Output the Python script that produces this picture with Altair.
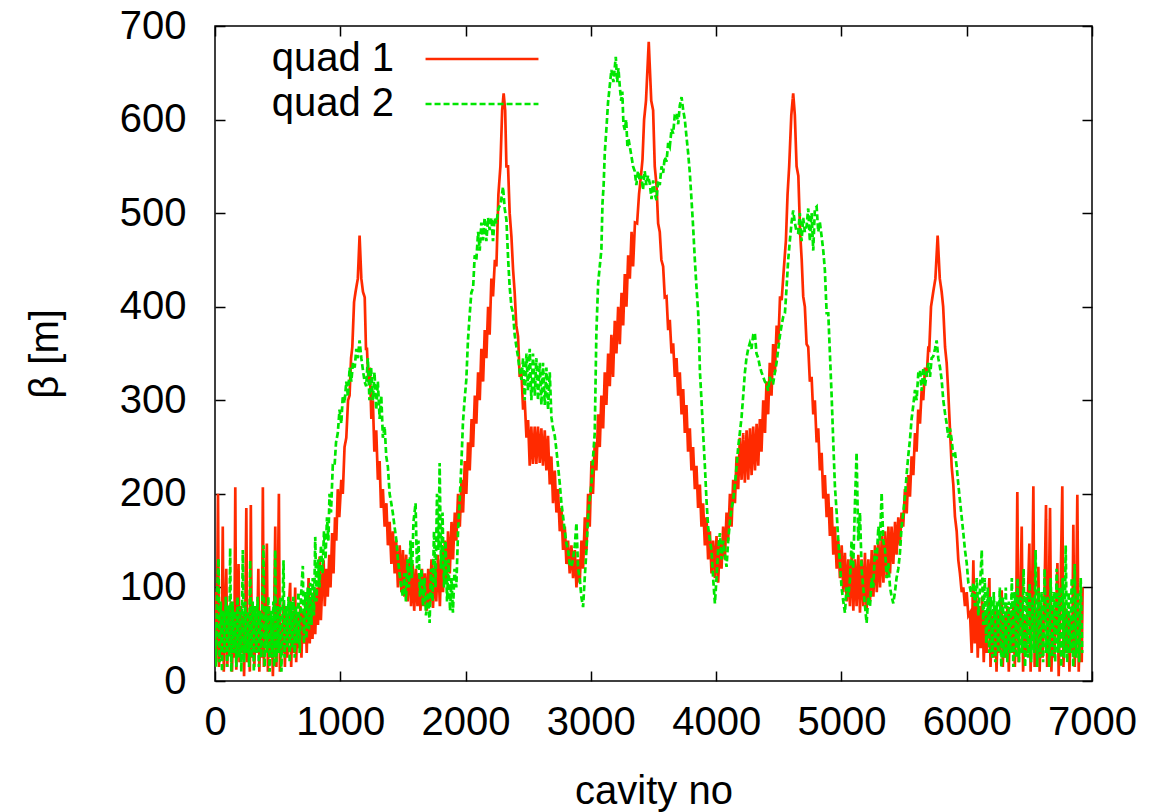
import altair as alt
import pandas as pd

# ---- data (cavity no, beta [m]) ----
quad1_pts = [
    (0,95),(8,20),(16,70),(24,200),(32,15),(44,80),(52,25),(62,165),(70,10),(80,60),(90,120),(98,15),(108,75),(118,30),
    (128,85),(136,10),(146,70),(154,25),(162,207),(170,12),(180,60),(188,125),(196,20),(206,80),(214,30),(224,70),(232,5),
    (242,75),(250,185),(258,20),(268,70),(278,10),(286,188),(294,25),(304,80),(314,15),(324,60),(334,30),(346,120),(354,10),
    (364,75),(374,25),(382,207),(390,15),(400,70),(414,147),(422,10),(432,80),(442,25),(452,65),(462,5),(472,70),(481,165),
    (490,15),(500,80),(510,200),(518,10),(528,60),(538,30),(548,85),(558,15),(568,70),(578,25),(590,80),(600,105),(608,15),
    (618,75),(628,30),(640,100),(648,20),(658,70),(668,35),(680,80),(690,25),(700,75),(712,40),(722,85),(732,30),(747,110),
    (756,40),(768,90),(778,45),(790,95),(800,50),(812,100),(822,60),(835,133),(845,65),(858,110),(867,129),(876,80),(888,120),
    (900,90),(912,135),(922,100),(935,158),(946,115),(958,175),(968,150),(980,205),(992,175),(1008,215),(1020,200),(1034,250),
    (1048,260),(1062,300),(1074,305),(1086,345),(1096,357),(1110,405),(1122,416),(1140,430),(1154,476),(1168,430),(1181,416),
    (1195,410),(1205,355),(1213,355),(1225,320),(1236,335),(1248,280),(1260,300),(1272,245),(1287,268),(1300,215),(1314,235),
    (1325,185),(1340,205),(1354,165),(1368,190),(1380,145),(1394,170),(1408,125),(1420,160),(1434,115),(1446,150),(1460,100),
    (1474,145),(1488,95),(1500,140),(1512,90),(1526,135),(1538,85),(1552,130),(1565,80),(1578,125),(1590,75),(1604,120),
    (1616,80),(1628,115),(1640,75),(1652,120),(1664,80),(1676,115),(1690,75),(1702,120),(1714,80),(1728,130),(1740,78),
    (1754,125),(1766,85),(1780,135),(1795,80),(1808,140),(1820,95),(1834,150),(1848,105),(1860,160),(1874,115),(1888,170),
    (1900,130),(1914,180),(1926,150),(1940,200),(1954,165),(1968,215),(1980,180),(1994,235),(2006,200),(2020,255),(2033,225),
    (2048,280),(2060,250),(2074,305),(2086,275),(2100,330),(2113,300),(2126,355),(2140,320),(2153,375),(2166,345),(2180,400),
    (2192,370),(2206,430),(2219,411),(2234,450),(2246,443),(2262,520),(2278,550),(2292,610),(2304,628),(2316,610),(2326,550),
    (2339,550),(2352,500),(2366,475),(2379,440),(2392,415),(2405,380),(2419,368),(2432,325),(2446,330),(2459,290),(2472,300),
    (2486,260),(2499,279),(2512,230),(2525,272),(2538,232),(2552,272),(2565,232),(2578,272),(2592,233),(2605,270),(2618,230),
    (2632,268),(2645,225),(2658,262),(2672,210),(2685,240),(2698,190),(2712,225),(2725,180),(2738,205),(2752,160),(2765,185),
    (2778,140),(2792,165),(2805,125),(2818,150),(2831,115),(2845,145),(2858,110),(2872,140),(2885,100),(2898,130),(2911,105),
    (2925,150),(2938,120),(2952,175),(2965,140),(2978,200),(2991,165),(3005,235),(3017,200),(3031,255),(3044,225),(3058,285),
    (3071,250),(3084,305),(3098,270),(3111,330),(3124,295),(3138,350),(3151,315),(3164,370),(3177,325),(3191,385),(3204,350),
    (3218,400),(3231,360),(3245,415),(3258,380),(3271,435),(3284,400),(3298,455),(3311,430),(3325,480),(3337,443),(3352,490),
    (3369,489),(3385,521),(3400,540),(3412,557),(3425,600),(3440,620),(3462,683),(3482,620),(3497,610),(3510,550),(3524,530),
    (3537,489),(3550,480),(3563,450),(3577,443),(3590,410),(3604,411),(3617,375),(3630,386),(3644,350),(3657,361),(3670,325),
    (3684,345),(3697,305),(3710,330),(3724,285),(3737,312),(3750,265),(3763,295),(3776,245),(3790,270),(3803,225),(3816,250),
    (3830,205),(3843,230),(3856,185),(3870,210),(3883,165),(3896,190),(3910,145),(3923,175),(3936,130),(3950,160),(3963,115),
    (3976,150),(3990,110),(4003,155),(4016,105),(4030,150),(4043,120),(4056,165),(4070,130),(4083,180),(4096,150),(4110,200),
    (4123,165),(4136,215),(4150,190),(4163,240),(4176,205),(4189,260),(4203,215),(4216,265),(4229,212),(4243,268),(4256,215),
    (4270,270),(4283,220),(4296,272),(4310,225),(4323,275),(4336,230),(4349,280),(4362,245),(4376,300),(4390,265),(4402,320),
    (4415,285),(4428,340),(4442,305),(4455,360),(4469,330),(4483,380),(4496,360),(4510,411),(4523,407),(4540,440),(4557,471),
    (4570,520),(4583,550),(4600,605),(4615,628),(4628,605),(4642,550),(4656,540),(4670,480),(4683,450),(4695,411),(4708,400),
    (4722,360),(4735,357),(4748,320),(4762,325),(4775,285),(4788,300),(4802,255),(4815,270),(4828,225),(4842,244),(4855,195),
    (4868,220),(4882,175),(4895,200),(4908,155),(4922,186),(4935,135),(4948,165),(4962,120),(4975,150),(4988,110),(5002,145),
    (5015,95),(5028,137),(5042,85),(5055,130),(5068,80),(5082,135),(5095,75),(5108,130),(5121,80),(5135,135),(5148,73),
    (5161,130),(5175,80),(5188,137),(5201,75),(5215,130),(5228,85),(5242,140),(5255,90),(5268,145),(5282,95),(5295,150),
    (5308,100),(5322,155),(5335,105),(5348,160),(5362,110),(5375,165),(5388,115),(5400,165),(5414,125),(5428,170),(5440,135),
    (5454,175),(5467,145),(5480,180),(5493,165),(5507,205),(5521,179),(5533,220),(5547,197),(5560,240),(5574,220),(5587,265),
    (5600,245),(5613,290),(5627,275),(5640,310),(5653,300),(5667,335),(5680,325),(5693,355),(5701,354),(5715,400),(5733,416),
    (5750,430),(5768,476),(5785,430),(5800,416),(5812,400),(5827,357),(5840,340),(5853,308),(5866,270),(5880,229),(5893,210),
    (5906,176),(5920,160),(5933,129),(5946,115),(5960,95),(5973,100),(5986,80),(6000,95),(6013,70),(6026,73),(6040,30),
    (6053,129),(6064,40),(6076,95),(6088,25),(6100,80),(6112,35),(6124,90),(6136,20),(6148,75),(6160,30),(6172,85),(6181,110),
    (6190,15),(6202,70),(6214,25),(6226,80),(6238,10),(6250,75),(6262,30),(6279,97),(6288,15),(6300,70),(6312,25),(6324,80),
    (6336,10),(6348,75),(6360,30),(6372,85),(6384,15),(6395,70),(6404,202),(6414,20),(6426,75),(6439,165),(6450,10),(6462,70),
    (6474,30),(6486,80),(6500,147),(6510,10),(6520,70),(6532,208),(6542,15),(6554,75),(6563,30),(6572,122),(6582,10),(6594,80),
    (6606,25),(6618,70),(6633,188),(6642,15),(6654,75),(6665,185),(6676,10),(6688,80),(6700,25),(6712,70),(6724,126),(6734,5),
    (6746,75),(6763,208),(6772,15),(6784,80),(6796,30),(6808,75),(6820,10),(6832,70),(6842,30),(6851,167),(6862,15),(6872,70),
    (6883,199),(6894,10),(6906,75),(6918,20),(6925,100),
]

quad2_pts = [
    (0,60),(8,15),(16,90),(28,131),(36,20),(46,85),(56,10),(66,75),(76,30),(86,90),(96,15),(106,80),(114,25),(121,142),
    (130,10),(140,85),(150,30),(160,75),(170,15),(180,90),(190,25),(200,80),(210,10),(222,140),(232,20),(242,85),(252,30),
    (262,75),(272,15),(281,129),(290,25),(300,85),(310,10),(320,80),(330,30),(340,90),(350,15),(360,75),(370,25),(387,145),
    (396,15),(406,80),(416,30),(426,90),(436,10),(446,75),(456,25),(466,85),(472,15),(481,140),(490,20),(500,80),(510,30),
    (520,90),(530,10),(547,129),(556,25),(566,80),(576,35),(586,90),(596,20),(606,85),(616,35),(626,90),(636,25),(646,80),
    (656,40),(666,95),(676,30),(686,90),(701,123),(710,40),(720,95),(730,45),(740,100),(750,55),(760,105),(770,60),(780,110),
    (790,70),(800,154),(810,85),(822,130),(834,100),(846,145),(858,115),(870,160),(882,130),(894,175),(905,150),(914,200),
    (926,180),(940,230),(954,229),(966,255),(980,265),(994,290),(1008,275),(1020,305),(1034,297),(1048,320),(1061,304),
    (1075,335),(1088,320),(1101,340),(1115,335),(1128,355),(1140,345),(1154,364),(1168,345),(1181,332),(1194,320),(1207,315),
    (1220,345),(1233,300),(1246,335),(1260,300),(1273,330),(1287,290),(1300,320),(1314,280),(1327,305),(1340,260),(1354,272),
    (1367,240),(1380,229),(1394,200),(1407,190),(1420,179),(1433,165),(1447,151),(1460,130),(1473,115),(1486,100),(1500,90),
    (1512,115),(1524,85),(1536,130),(1548,100),(1560,150),(1572,110),(1584,170),(1601,190),(1612,120),(1624,150),(1636,90),
    (1648,120),(1660,80),(1672,110),(1684,70),(1700,95),(1713,62),(1724,120),(1736,85),(1748,160),(1760,100),(1772,200),
    (1784,140),(1793,233),(1804,120),(1816,180),(1828,100),(1840,150),(1852,85),(1864,130),(1876,75),(1888,110),(1899,73),
    (1912,120),(1926,100),(1940,160),(1953,193),(1966,230),(1979,276),(1992,300),(2006,322),(2019,364),(2032,390),(2046,415),
    (2060,420),(2073,455),(2086,450),(2100,480),(2113,460),(2126,490),(2139,471),(2152,495),(2166,470),(2180,495),(2192,482),
    (2206,495),(2219,470),(2232,495),(2246,489),(2262,505),(2280,510),(2299,528),(2312,505),(2326,493),(2340,450),(2352,421),
    (2366,400),(2379,393),(2392,370),(2406,357),(2420,345),(2433,330),(2446,322),(2459,345),(2472,300),(2486,350),(2499,310),
    (2512,355),(2525,300),(2538,350),(2552,305),(2565,345),(2578,300),(2592,340),(2605,295),(2618,340),(2632,295),(2645,335),
    (2658,290),(2672,330),(2685,282),(2698,270),(2712,262),(2725,247),(2738,230),(2752,211),(2765,190),(2778,176),(2792,160),
    (2805,147),(2818,140),(2831,125),(2845,122),(2858,130),(2872,145),(2885,169),(2898,120),(2911,110),(2924,90),(2938,79),
    (2951,110),(2965,140),(2978,176),(2991,195),(3005,211),(3018,240),(3031,265),(3044,372),(3058,425),(3071,443),(3084,461),
    (3093,511),(3102,530),(3111,564),(3124,590),(3137,618),(3150,635),(3164,653),(3180,640),(3199,667),(3210,640),(3220,655),
    (3231,635),(3242,620),(3251,630),(3260,595),(3271,589),(3282,600),(3292,570),(3300,580),(3311,571),(3325,560),(3337,550),
    (3350,545),(3363,530),(3376,545),(3390,535),(3403,540),(3416,525),(3430,545),(3443,530),(3456,540),(3470,532),(3484,515),
    (3497,535),(3511,520),(3524,514),(3537,535),(3550,530),(3564,550),(3577,543),(3590,560),(3604,555),(3617,575),(3630,571),
    (3644,590),(3657,585),(3670,605),(3684,607),(3697,595),(3710,615),(3724,624),(3737,610),(3750,600),(3763,582),(3776,565),
    (3790,543),(3803,515),(3816,486),(3830,450),(3843,421),(3856,395),(3864,368),(3870,332),(3883,300),(3896,265),(3910,230),
    (3923,193),(3936,165),(3950,150),(3963,140),(3976,110),(3990,83),(4003,110),(4016,140),(4030,158),(4043,130),(4056,150),
    (4070,135),(4083,122),(4096,150),(4110,170),(4123,185),(4136,193),(4150,210),(4163,229),(4176,250),(4189,265),(4203,282),
    (4216,305),(4229,329),(4242,345),(4256,355),(4269,361),(4282,355),(4296,370),(4309,372),(4322,350),(4336,345),(4349,336),
    (4362,330),(4376,325),(4389,320),(4402,318),(4415,310),(4428,325),(4442,318),(4455,318),(4469,330),(4482,340),(4495,354),
    (4510,370),(4522,380),(4535,389),(4549,393),(4562,420),(4575,450),(4588,470),(4602,490),(4615,503),(4628,490),(4642,480),
    (4655,479),(4668,500),(4682,470),(4695,495),(4708,480),(4722,486),(4735,505),(4748,470),(4762,500),(4775,460),(4788,505),
    (4802,507),(4815,480),(4828,490),(4842,475),(4855,460),(4868,439),(4882,393),(4895,393),(4908,350),(4922,304),(4935,255),
    (4948,208),(4962,180),(4975,150),(4988,126),(5001,100),(5015,85),(5028,73),(5041,100),(5055,90),(5068,108),(5081,150),
    (5094,120),(5108,190),(5121,244),(5134,150),(5148,180),(5161,120),(5174,100),(5188,80),(5201,62),(5214,90),(5228,80),
    (5241,110),(5254,100),(5268,140),(5281,130),(5295,165),(5308,150),(5321,201),(5334,150),(5348,140),(5361,110),(5374,126),
    (5388,100),(5401,90),(5414,83),(5427,95),(5440,110),(5454,120),(5467,137),(5480,165),(5494,180),(5507,197),(5520,220),
    (5533,240),(5547,258),(5560,280),(5574,295),(5587,311),(5600,300),(5614,330),(5627,332),(5640,310),(5654,335),(5667,315),
    (5680,329),(5694,340),(5707,325),(5720,345),(5733,347),(5747,355),(5760,364),(5773,345),(5787,335),(5800,322),(5813,300),
    (5827,286),(5840,275),(5853,260),(5866,270),(5880,258),(5893,240),(5906,245),(5920,229),(5933,210),(5946,193),(5960,175),
    (5973,158),(5986,140),(6000,126),(6013,105),(6026,100),(6040,90),(6053,105),(6066,80),(6080,110),(6093,70),(6106,100),
    (6120,140),(6132,60),(6144,110),(6156,40),(6168,100),(6180,30),(6192,90),(6204,25),(6216,95),(6228,20),(6240,85),
    (6252,30),(6264,100),(6276,15),(6288,90),(6300,25),(6312,100),(6324,20),(6336,85),(6348,30),(6360,110),(6372,15),
    (6384,95),(6396,25),(6406,110),(6418,20),(6430,90),(6442,30),(6454,120),(6466,15),(6478,95),(6490,25),(6502,105),
    (6514,20),(6526,90),(6538,30),(6550,140),(6562,15),(6574,100),(6586,25),(6598,95),(6610,20),(6622,120),(6634,30),
    (6646,90),(6658,15),(6670,110),(6682,25),(6694,95),(6706,20),(6718,120),(6730,30),(6742,100),(6754,15),(6766,110),
    (6778,25),(6790,145),(6802,20),(6814,95),(6826,30),(6838,110),(6850,15),(6862,125),(6874,25),(6886,95),(6898,20),
    (6910,110),(6922,30),
]

series_names = ["quad 1", "quad 2"]
series_colors = ["#ff2a00", "#00e600"]
x_ticks = [0, 1000, 2000, 3000, 4000, 5000, 6000, 7000]
y_ticks = [0, 100, 200, 300, 400, 500, 600, 700]

rows = []
for name, pts in zip(series_names, [quad1_pts, quad2_pts]):
    for i, (x, y) in enumerate(pts):
        rows.append({"series": name, "idx": i, "cavity": x, "beta": y})
df = pd.DataFrame(rows)

FONT = "Liberation Sans"
FS = 40

xscale = alt.Scale(domain=[0, 7000], nice=False)
yscale = alt.Scale(domain=[0, 700], nice=False)

# long horizontal sample line as a custom legend symbol
legend = alt.Legend(title=None, orient="none", legendX=247, legendY=13,
                    symbolType="M-5,0H5", symbolSize=510, symbolStrokeWidth=2.4,
                    symbolFillColor="transparent",
                    labelFontSize=FS, labelFont=FONT, labelColor="black",
                    labelAlign="right", labelOffset={"expr": "-108"},
                    rowPadding=5, padding=0)

lines = alt.Chart(df).mark_line(strokeWidth=2.7, clip=True).encode(
    x=alt.X("cavity:Q", scale=xscale,
            axis=alt.Axis(values=x_ticks, format="d", labelOverlap=False, labelFlush=False,
                          title="cavity no", grid=False, domain=False,
                          tickSize=10, offset=-10, tickColor="black", tickWidth=1.5,
                          labelPadding=21, labelFontSize=FS, labelFont=FONT, labelColor="black",
                          titleFontSize=FS, titleFont=FONT, titleFontWeight="normal",
                          titleColor="black", titlePadding=29)),
    y=alt.Y("beta:Q", scale=yscale,
            axis=alt.Axis(values=y_ticks, format="d", labelOverlap=False, labelFlush=False,
                          title="β [m]", grid=False, domain=False,
                          tickSize=10, offset=-10, tickColor="black", tickWidth=1.5,
                          labelPadding=29, labelFontSize=FS, labelFont=FONT, labelColor="black",
                          titleFontSize=FS, titleFont=FONT, titleFontWeight="normal",
                          titleColor="black", titlePadding=54)),
    color=alt.Color("series:N", scale=alt.Scale(domain=series_names, range=series_colors),
                    legend=legend),
    strokeDash=alt.StrokeDash("series:N",
                              scale=alt.Scale(domain=series_names, range=[[1, 0], [6, 3]]),
                              legend=legend),
    order="idx:Q",
)

mirror = alt.Chart(df).mark_line(opacity=0).encode(
    x=alt.X("cavity:Q", scale=xscale,
            axis=alt.Axis(values=x_ticks, orient="top", labels=False, title=None, grid=False,
                          domain=False, tickSize=10, offset=-10, tickColor="black", tickWidth=1.5)),
    y=alt.Y("beta:Q", scale=yscale,
            axis=alt.Axis(values=y_ticks, orient="right", labels=False, title=None, grid=False,
                          domain=False, tickSize=10, offset=-10, tickColor="black", tickWidth=1.5)),
    detail="series:N",
)

chart = alt.layer(lines, mirror).resolve_axis(x="independent", y="independent").properties(
    width=877, height=655,
    padding={"left": 215, "top": 26, "right": 75, "bottom": 131},
    autosize=alt.AutoSizeParams(type="none"),
    background="white",
).configure_view(stroke="black", strokeWidth=1.5)

chart.save("out.html", embed_options={"renderer": "svg", "actions": False})
